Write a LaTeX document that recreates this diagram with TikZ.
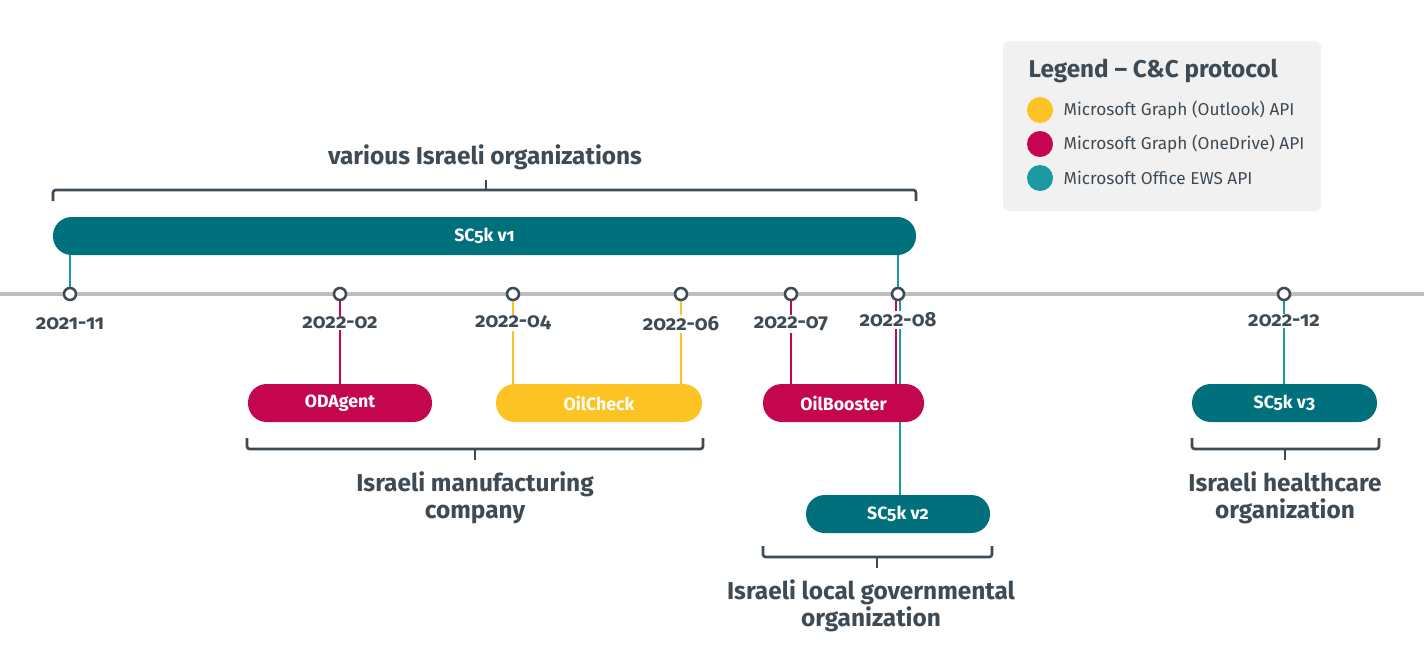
\documentclass[tikz,border=0pt]{standalone}
\usepackage{fontspec}
\setmainfont{Fira Sans}[Numbers=OldStyle]
\usetikzlibrary{backgrounds}
\definecolor{ink}{HTML}{3E4A54}
\definecolor{petrol}{HTML}{00717C}
\definecolor{ews}{HTML}{1A9AA1}
\definecolor{graphod}{HTML}{C4064E}
\definecolor{graphol}{HTML}{FDC325}
\definecolor{axisgray}{HTML}{BEBEBE}
\definecolor{legendbg}{HTML}{F1F1F1}

\begin{document}
\begin{tikzpicture}[x=0.75pt,y=-0.75pt,
  month/.style={circle,draw=ink,line width=1.9pt,fill=white,minimum size=9pt,inner sep=0pt},
  date/.style={fill=white,inner sep=1pt,text=ink,font=\bfseries\fontsize{15.3}{17}\selectfont},
  tool/.style={rounded corners=14pt,minimum height=28.5pt,inner sep=0pt,text=white,font=\bfseries\fontsize{13.3}{15}\selectfont},
  victim/.style={align=center,text=ink,font=\bfseries\fontsize{18.3}{20}\selectfont},
  link/.style={line width=1.5pt},
  grip/.style={draw=ink,line width=2pt,rounded corners=2pt}]

\useasboundingbox (0,0) rectangle (1424,657);

% months on the time line
\foreach \n/\x/\y/\d in {m2111/70/324/2021-11,m2202/340/323/2022-02,m2204/513/323/2022-04,
    m2206/681/324/2022-06,m2207/791/324/2022-07,m2208/898/320/2022-08,m2212/1284/321/2022-12}{
  \node[month] (\n) at (\x,294) {};
  \node[date] (t\n) at (\x,\y) {\d};
}

% tools
\node[tool,fill=petrol,minimum width=647.25pt] (v1) at (484.5,236) {SC5k v1};
\node[tool,fill=graphod,minimum width=138pt] (oda) at (340,403) {ODAgent};
\node[tool,fill=graphol,minimum width=154.5pt] (oil) at (599,403) {OilCheck};
\node[tool,fill=graphod,minimum width=120.75pt] (boost) at (843.5,403) {OilBooster};
\node[tool,fill=petrol,minimum width=138pt] (v2) at (898,514) {SC5k v2};
\node[tool,fill=petrol,minimum width=138.75pt] (v3) at (1284.5,403) {SC5k v3};

\begin{scope}[on background layer]
\draw[axisgray,line width=2.5pt] (0,294) -- (1424,294);
\draw[link,ews] (m2111.north) -- (m2111.north |- v1.south);
\draw[link,ews] (m2208.north) -- (m2208.north |- v1.south);
\draw[link,graphod] (m2202.south) -- (m2202.south |- oda.north);
\draw[link,graphol] (m2204.south) -- (m2204.south |- oil.north);
\draw[link,graphol] (m2206.south) -- (m2206.south |- oil.north);
\draw[link,graphod] (m2207.south) -- (m2207.south |- boost.north);
\draw[link,graphod] ([xshift=-1.6pt]m2208.south) -- ([xshift=-1.6pt]m2208.south |- boost.north);
\draw[link,ews] ([xshift=1.2pt]m2208.south) -- ([xshift=1.2pt]m2208.south |- v2.north);
\draw[link,ews] (m2212.south) -- (m2212.south |- v3.north);
\end{scope}

% targets
\draw[grip] (53,201) -- (53,190) -- (916,190) -- (916,201);
\draw[grip] (486,190) -- (486,180);
\node[victim] (various) at (485,157) {various Israeli organizations};

\draw[grip] (247,438) -- (247,449) -- (703,449) -- (703,438);
\draw[grip] (475,449) -- (475,460);
\node[victim] (manuf) at (475,498) {Israeli manufacturing\\company};

\draw[grip] (763,546) -- (763,557) -- (992,557) -- (992,546);
\draw[grip] (877,557) -- (877,568);
\node[victim] (gov) at (871,606) {Israeli local governmental\\organization};

\draw[grip] (1192,438) -- (1192,449) -- (1379,449) -- (1379,438);
\draw[grip] (1285,449) -- (1285,460);
\node[victim] (health) at (1285,498) {Israeli healthcare\\organization};

% legend
\fill[legendbg,rounded corners=5pt] (1003,41) rectangle (1321,211);
\node[anchor=west,text=ink,font=\bfseries\fontsize{18.2}{20}\selectfont] (legend) at (1024,71) {Legend – C\&C protocol};
\node[circle,fill=graphol,minimum size=19.5pt,inner sep=0pt] (kol) at (1040,110) {};
\node[circle,fill=graphod,minimum size=19.5pt,inner sep=0pt] (kod) at (1040,144) {};
\node[circle,fill=ews,minimum size=19.5pt,inner sep=0pt] (kews) at (1040,178) {};
\node[anchor=west,text=ink,font=\fontsize{12.9}{15}\selectfont] (lol) at (1059,110) {Microsoft Graph (Outlook) API};
\node[anchor=west,text=ink,font=\fontsize{12.9}{15}\selectfont] (lod) at (1059,144) {Microsoft Graph (OneDrive) API};
\node[anchor=west,text=ink,font=\fontsize{12.9}{15}\selectfont] (lews) at (1059,178) {Microsoft Office EWS API};

\end{tikzpicture}
\end{document}
